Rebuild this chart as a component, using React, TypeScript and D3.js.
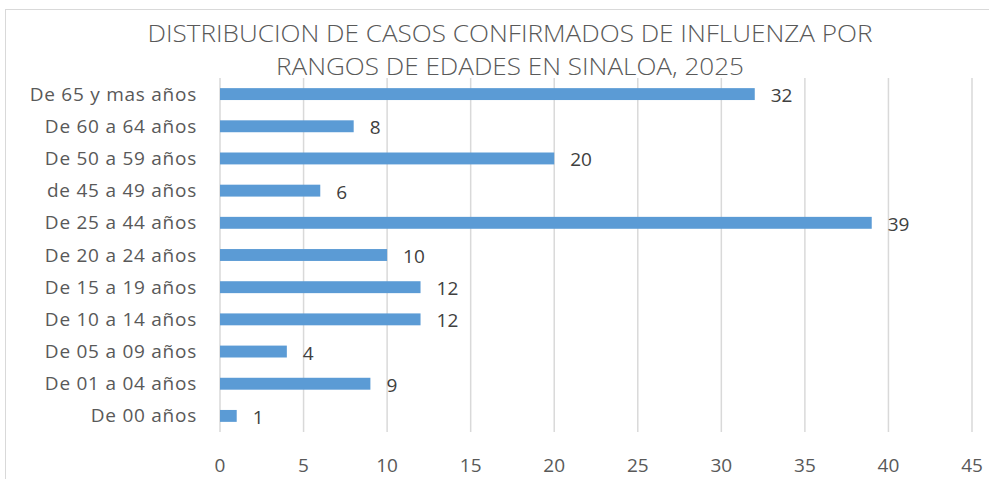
import React from "react";
import * as d3 from "d3";

const categories = [
  "De 65 y mas años",
  "De 60 a 64 años",
  "De 50 a 59 años",
  "de 45 a 49 años",
  "De 25 a 44 años",
  "De 20 a 24 años",
  "De 15 a 19 años",
  "De 10 a 14 años",
  "De 05 a 09 años",
  "De 01 a 04 años",
  "De 00 años",
];
const values = [32, 8, 20, 6, 39, 10, 12, 12, 4, 9, 1];
const xTicks = [0, 5, 10, 15, 20, 25, 30, 35, 40, 45];
const titleLines = [
  "DISTRIBUCION DE CASOS CONFIRMADOS DE INFLUENZA POR",
  "RANGOS DE EDADES EN SINALOA, 2025",
];

const W = 989;
const H = 479;
const FONT = "'Open Sans', 'DejaVu Sans', sans-serif";

export default function App() {
  const x = d3.scaleLinear().domain([0, 45]).range([220, 972]);
  const y = d3
    .scaleBand<string>()
    .domain(categories)
    .range([78, 432])
    .paddingInner(0.63)
    .paddingOuter(0.315);

  return (
    <svg
      width={W}
      height={H}
      style={{ position: "absolute", left: 0, top: 0, background: "#fff" }}
    >
      <rect x={5.5} y={9.5} width={1000} height={600} fill="#fff" stroke="#d9d9d9" />
      {titleLines.map((t, i) => (
        <text
          key={i}
          x={510}
          y={42 + i * 33}
          textAnchor="middle"
          fontFamily={FONT}
          fontSize={24}
          fontWeight={300}
          fill="#595959"
          textLength={i === 0 ? 725 : 468}
          lengthAdjust="spacingAndGlyphs"
        >
          {t}
        </text>
      ))}
      {xTicks.map((t) => (
        <g key={t}>
          <line x1={x(t)} x2={x(t)} y1={78} y2={432} stroke="#d9d9d9" strokeWidth={1.5} />
          <text
            x={x(t)}
            y={472}
            textAnchor="middle"
            fontFamily={FONT}
            fontSize={19}
            fill="#595959"
          >
            {t}
          </text>
        </g>
      ))}
      {categories.map((c, i) => {
        const cy = (y(c) as number) + y.bandwidth() / 2;
        return (
          <g key={c}>
            <rect
              x={x(0)}
              y={y(c)}
              width={x(values[i]) - x(0)}
              height={y.bandwidth()}
              fill="#5b9bd5"
            />
            <text
              x={197}
              y={cy + 6.5}
              textAnchor="end"
              fontFamily={FONT}
              fontSize={19}
              letterSpacing={0.75}
              fill="#595959"
            >
              {c}
            </text>
            <text
              x={x(values[i]) + 16}
              y={cy + 8}
              fontFamily={FONT}
              fontSize={19}
              fill="#404040"
            >
              {values[i]}
            </text>
          </g>
        );
      })}
    </svg>
  );
}
